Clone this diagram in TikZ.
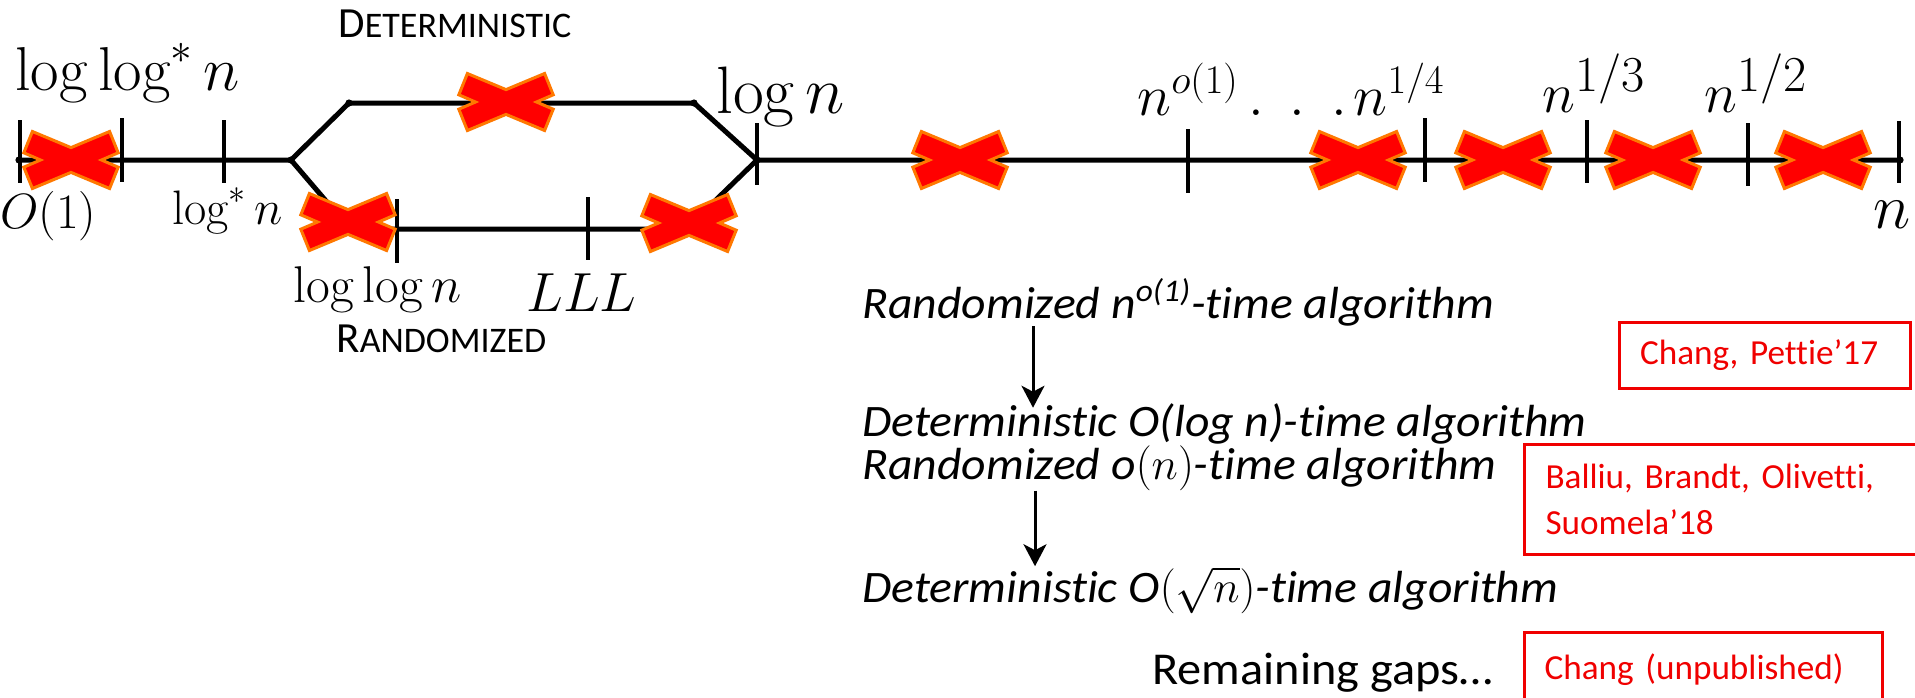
\RequirePackage{fix-cm}
\documentclass[tikz,border=0pt]{standalone}
\usepackage{fontspec}
\newfontfamily\calib[Ligatures=NoCommon]{Carlito}
\newfontfamily\calibw[Ligatures=NoCommon, FakeStretch=1.06]{Carlito}
\usetikzlibrary{arrows.meta}
\definecolor{xred}{RGB}{255,0,0}
\definecolor{xorange}{RGB}{255,120,0}
\definecolor{refred}{RGB}{240,0,0}

\tikzset{
  axis/.style={line width=2.5pt, line cap=round, line join=round},
  tickmark/.style={line width=1.75pt},
  vertex/.style={circle, fill=black, inner sep=0pt, minimum size=3.6pt},
  lbl/.style={inner sep=0pt, anchor=base west},
  itext/.style={lbl, font=\calibw\itshape\fontsize{22.5}{25}\selectfont},
  implies/.style={line width=1.5pt, -{Stealth[length=11pt, width=11.5pt, inset=3pt]}},
  refbox/.style={draw=refred, text=refred, line width=1.5pt, anchor=north west,
    align=left, inner xsep=10pt, inner ysep=0pt,
    font=\calib\fontsize{17.6}{23}\selectfont},
  cross/.pic={
    \filldraw[fill=xred, draw=xorange, line width=1.5pt, line join=miter]
      (30.5,0) -- (47.2,7.2) -- (38.6,28.5) -- (0,12.4) -- (-38.6,28.5)
      -- (-47.2,7.2) -- (-30.5,0) -- (-47.2,-7.2) -- (-38.6,-28.5)
      -- (0,-12.4) -- (38.6,-28.5) -- (47.2,-7.2) -- cycle;
  }
}

\begin{document}
\begin{tikzpicture}[x=0.5pt, y=-0.5pt]
\clip (0,0) rectangle (1915,697);
\fill[white] (0,0) rectangle (1915,697);

% ---- the time-complexity axis and its two branches ----
\coordinate (a0) at (19,160);
\coordinate (j1) at (291,160);
\coordinate (u1) at (349,103);
\coordinate (u2) at (694,103);
\coordinate (l1) at (350,229);
\coordinate (l2) at (686,229);
\coordinate (j2) at (757,160);
\coordinate (a1) at (1900,160);

\draw[axis] (a0) -- (j1) -- (u1) -- (u2) -- (j2) -- (a1);
\draw[axis] (j1) -- (l1) -- (l2) -- (j2);
\foreach \p in {a0,j1,u1,u2,j2,a1} \node[vertex] at (\p) {};

% ticks on the main axis
\coordinate (t0) at (20,160);
\coordinate (t1) at (122,160);
\coordinate (t2) at (224,160);
\coordinate (t3) at (757,160);
\coordinate (t4) at (1188,160);
\coordinate (t5) at (1425,160);
\coordinate (t6) at (1587,160);
\coordinate (t7) at (1748,160);
\coordinate (t8) at (1899,160);
\draw[tickmark] (t0) ++(0,-40) -- ++(0,63);
\draw[tickmark] (t1) ++(0,-42) -- ++(0,64);
\draw[tickmark] (t2) ++(0,-40) -- ++(0,63);
\draw[tickmark] (t3) ++(0,-37) -- ++(0,62);
\draw[tickmark] (t4) ++(0,-31) -- ++(0,64);
\draw[tickmark] (t5) ++(0,-42) -- ++(0,64);
\draw[tickmark] (t6) ++(0,-40) -- ++(0,63);
\draw[tickmark] (t7) ++(0,-37) -- ++(0,63);
\draw[tickmark] (t8) ++(0,-39) -- ++(0,62);
% ticks on the randomized branch
\coordinate (r0) at (397,229);
\coordinate (r1t) at (588,229);
\draw[tickmark] (r0) ++(0,-30) -- ++(0,64);
\draw[tickmark] (r1t) ++(0,-32) -- ++(0,63);

% ---- excluded ranges ----
\pic (x1) at (71,160) {cross};
\pic (x2) at (506,102) {cross};
\pic (x3) at (348,222) {cross};
\pic (x4) at (689,223) {cross};
\pic (x5) at (960,160) {cross};
\pic (x6) at (1358,160) {cross};
\pic (x7) at (1503,160) {cross};
\pic (x8) at (1653,160) {cross};
\pic (x9) at (1823,160) {cross};

% ---- axis labels ----
\node[lbl, font=\fontsize{26.5}{30}\selectfont] (lab1) at (15,90) {\scalebox{1.17}{$\log\log^* n$}};
\node[lbl, font=\fontsize{22.5}{26}\selectfont] (lab2) at (0,228) {\scalebox{1.1}{$O(1)$}};
\node[lbl, font=\fontsize{23.5}{26}\selectfont] (lab3) at (172,224) {\scalebox{1.03}{$\log^* n$}};
\node[lbl, font=\fontsize{23.5}{26}\selectfont] (lab4) at (293,302) {\scalebox{1.1}{$\log\log n$}};
\node[lbl, font=\fontsize{26}{30}\selectfont] (lab5) at (526,311) {\scalebox{1.06}{$LLL$}};
\node[lbl, font=\fontsize{30.5}{34}\selectfont] (lab6) at (716,113) {\scalebox{1.1}{$\log n$}};
\node[lbl, font=\fontsize{29}{32}\selectfont] (lab7) at (1137,115)
  {$n^{o(1)}\mkern3mu\mathbf{.}\mkern8mu\mathbf{.}\mkern8mu\mathbf{.}\mkern2mu n^{1/4}$};
\node[lbl, font=\fontsize{27}{30}\selectfont] (lab8) at (1542,112)
  {\scalebox{1.04}{$n^{\scalebox{1.28}{$\scriptstyle 1/3$}}$}};
\node[lbl, font=\fontsize{27}{30}\selectfont] (lab9) at (1704,112)
  {\scalebox{1.04}{$n^{\scalebox{1.28}{$\scriptstyle 1/2$}}$}};
\node[lbl, font=\fontsize{26.5}{30}\selectfont] (lab10) at (1873,228) {\scalebox{1.2}{$n$}};

\node[lbl, font=\calib] (det) at (338,37)
  {\fontsize{21.5}{24}\selectfont D\fontsize{18}{20}\selectfont ETERMINISTIC};
\node[lbl, font=\calib] (rnd) at (336,352)
  {\fontsize{21.5}{24}\selectfont R\fontsize{18}{20}\selectfont ANDOMIZED};

% ---- reductions ----
\node[itext] (s1) at (862,318) {Randomized n\textsuperscript{o(1)}-time algorithm};
\node[itext] (s2) at (862,436) {Deterministic O(log n)-time algorithm};
\node[itext] (s3) at (862,479) {Randomized o$(n)$-time algorithm};
\node[itext] (s4) at (862,602) {Deterministic O$(\sqrt{n})$-time algorithm};
\node[lbl, font=\calibw\fontsize{22.8}{26}\selectfont] (s5) at (1152,684) {Remaining gaps…};

\coordinate (ax1) at (1033,0);
\coordinate (ax2) at (1035,0);
\draw[implies, shorten >=-2.5pt] (ax1 |- s1.south) -- (ax1 |- s2.north);
\draw[implies, shorten >=0pt] (ax2 |- s3.south) -- (ax2 |- s4.north);

% ---- references ----
\node[refbox, minimum width=145.5pt, minimum height=33pt, text width=125pt]
  (ref1) at (1618,321) {Chang, Pettie’17};
\node[refbox, minimum width=206pt, minimum height=55pt, text width=185pt]
  (ref2) at (1523,443) {Balliu, Brandt, Olivetti,\\Suomela’18};
\node[refbox, minimum width=179pt, minimum height=37pt, text width=159pt]
  (ref3) at (1523,631) {Chang (unpublished)};
\end{tikzpicture}
\end{document}
